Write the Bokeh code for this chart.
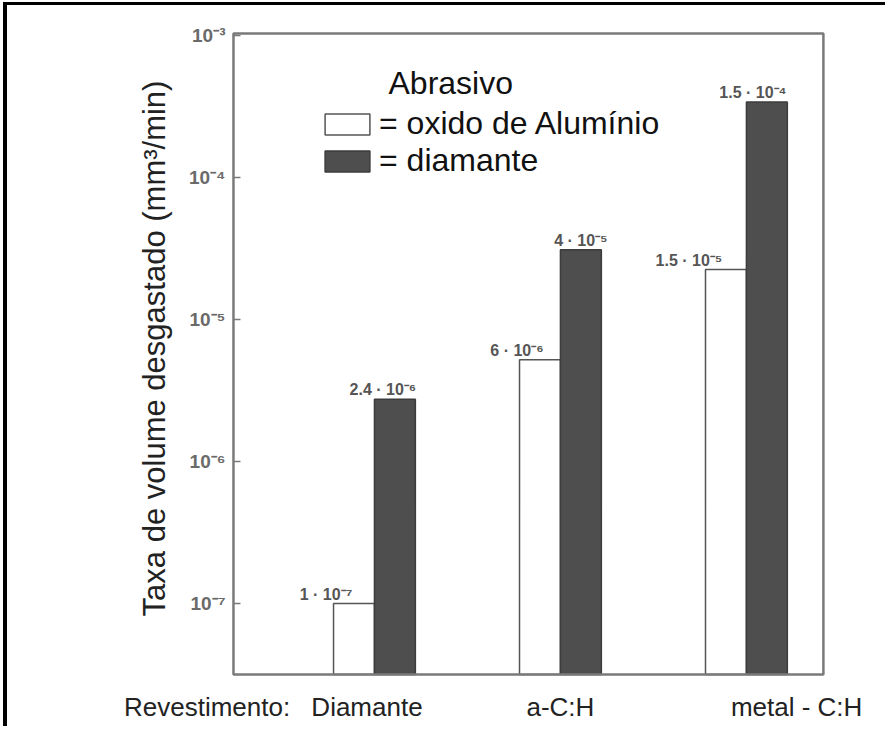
from bokeh.plotting import figure
from bokeh.models import (BoxAnnotation, ColumnDataSource, FixedTicker, Label,
                          Legend, LegendItem, Range1d)
from bokeh.embed import file_html
from bokeh.resources import INLINE
from bokeh.core.properties import value

# ---- data ----
coatings = ["Diamante", "a-C:H", "metal - C:H"]
series_names = ["= oxido de Alumínio", "= diamante"]
alumina_rate = [1.0e-7, 5.2e-6, 2.25e-5]      # white bars (bar tops as drawn)
diamond_rate = [2.75e-6, 3.1e-5, 3.4e-4]      # dark bars (bar tops as drawn)
alumina_text = ["1 · 10⁻⁷", "6 · 10⁻⁶", "1.5 · 10⁻⁵"]
diamond_text = ["2.4 · 10⁻⁶", "4 · 10⁻⁵", "1.5 · 10⁻⁴"]
y_ticks = [1e-7, 1e-6, 1e-5, 1e-4, 1e-3]
y_tick_labels = ["10⁻⁷", "10⁻⁶", "10⁻⁵", "10⁻⁴", "10⁻³"]
x_prefix = "Revestimento:"
y_title = "Taxa de volume desgastado (mm³/min)"
legend_title = "Abrasivo"

# ---- layout / style ----
FONT = "Liberation Sans"
group_pos = [1, 2, 3]
bar_w = 0.22
label_shift = [-0.04, 0.0, 0.27]          # where the category names sit
prefix_pos = 0.10                         # where "Revestimento:" sits
# plot box (drawn) and the slightly larger frame around it
BOX_LEFT, BOX_RIGHT = 0.242, 3.414
BOX_BOTTOM, BOX_TOP = 10 ** -7.5, 10 ** -2.986
X_START, X_END = -0.473, 3.436
Y_START, Y_END = 10 ** -7.528, 10 ** -2.88
alumina_dx = [-28, -23, -37]              # px offsets of value labels
diamond_dx = [-12, 0, -14]
AXIS_GRAY = "#7a7a7a"
DARK = "#4e4e4e"

white_src = ColumnDataSource(dict(
    x=[g - bar_w / 2 for g in group_pos], top=alumina_rate,
    txt=alumina_text, dx=alumina_dx))
dark_src = ColumnDataSource(dict(
    x=[g + bar_w / 2 for g in group_pos], top=diamond_rate,
    txt=diamond_text, dx=diamond_dx))

p = figure(width=882, height=724, y_axis_type="log",
           x_range=Range1d(X_START, X_END), y_range=Range1d(Y_START, Y_END),
           output_backend="svg", toolbar_location=None,
           min_border_left=93, min_border_right=62,
           min_border_top=13, min_border_bottom=51)
p.styles = {"margin-left": "3px", "margin-top": "2px",
            "border-left": "4px solid black", "border-top": "3px solid black"}
p.grid.visible = False
p.outline_line_color = None
p.background_fill_color = "white"

r_white = p.vbar(x="x", top="top", bottom=BOX_BOTTOM, width=bar_w, source=white_src,
                 fill_color="white", line_color="#555555", line_width=1.5)
r_dark = p.vbar(x="x", top="top", bottom=BOX_BOTTOM, width=bar_w, source=dark_src,
                fill_color=DARK, line_color="#3c3c3c", line_width=1.5)

# the plot box
p.add_layout(BoxAnnotation(left=BOX_LEFT, right=BOX_RIGHT, bottom=BOX_BOTTOM,
                           top=BOX_TOP, fill_alpha=0, line_color=AXIS_GRAY,
                           line_alpha=1.0, line_width=2.5))

for src in (white_src, dark_src):
    p.text(x="x", y="top", text="txt", source=src, x_offset="dx", y_offset=-1,
           text_align="center", text_baseline="bottom",
           text_font=value(FONT), text_font_size="16px", text_font_style="bold",
           text_color="#555555")

# y axis, drawn at the left edge of the box
ya = p.yaxis[0]
ya.fixed_location = BOX_LEFT
ya.ticker = FixedTicker(ticks=y_ticks)
ya.major_label_overrides = {t: l for t, l in zip(y_ticks, y_tick_labels)}
ya.axis_line_color = None
ya.major_tick_in = 7
ya.major_tick_out = 0
ya.major_tick_line_color = AXIS_GRAY
ya.major_tick_line_width = 1.5
ya.minor_tick_line_color = None
ya.major_label_text_font = FONT
ya.major_label_text_font_size = "19px"
ya.major_label_text_font_style = "bold"
ya.major_label_text_color = "#6a6a6a"
ya.major_label_standoff = 8
ya.axis_label = y_title
ya.axis_label_text_font = FONT
ya.axis_label_text_font_size = "31px"
ya.axis_label_text_font_style = "normal"
ya.axis_label_text_color = "#222222"
ya.axis_label_standoff = 14

# x axis: category names plus the "Revestimento:" caption
xa = p.xaxis[0]
tick_x = [prefix_pos] + [g + s for g, s in zip(group_pos, label_shift)]
xa.ticker = FixedTicker(ticks=tick_x)
xa.major_label_overrides = {t: c for t, c in zip(tick_x, [x_prefix] + coatings)}
xa.axis_line_color = None
xa.major_tick_line_color = None
xa.minor_tick_line_color = None
xa.major_label_text_font = FONT
xa.major_label_text_font_size = "26px"
xa.major_label_text_color = "#222222"
xa.major_label_standoff = 7

# legend (positions relative to the frame's bottom-left corner)
legend = Legend(items=[LegendItem(label=series_names[0], renderers=[r_white]),
                       LegendItem(label=series_names[1], renderers=[r_dark])],
                location=(219, 499), orientation="vertical",
                border_line_color=None, background_fill_alpha=0,
                padding=0, margin=0, spacing=-11,
                glyph_width=56, glyph_height=26, label_standoff=4,
                label_text_font=FONT, label_text_font_size="32px",
                label_text_color="#111111")
p.add_layout(legend)
p.add_layout(Label(x=288, y=596, x_units="screen", y_units="screen",
                   text=legend_title, text_baseline="middle",
                   text_font=FONT, text_font_size="32px", text_color="#111111"))

open("out.html", "w").write(file_html(p, INLINE))
